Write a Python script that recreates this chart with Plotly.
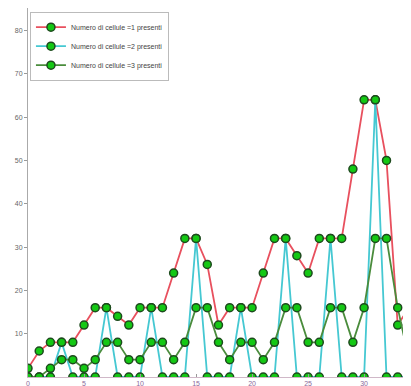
import plotly.graph_objects as go

x_vals = list(range(35))
cell1 = [2, 6, 8, 8, 8, 12, 16, 16, 14, 12, 16, 16, 16, 24, 32, 32, 26, 12, 16, 16,
         16, 24, 32, 32, 28, 24, 32, 32, 32, 48, 64, 64, 50, 12, 16]
cell2 = [0, 0, 0, 8, 0, 0, 0, 16, 0, 0, 0, 16, 0, 0, 0, 32, 0, 0, 0, 16,
         0, 0, 0, 32, 0, 0, 0, 32, 0, 0, 0, 64, 0, 0, 0]
cell3 = [0, 0, 2, 4, 4, 2, 4, 8, 8, 4, 4, 8, 8, 4, 8, 16, 16, 8, 4, 8,
         8, 4, 8, 16, 16, 8, 8, 16, 16, 8, 16, 32, 32, 16, 4]
names = ["Numero di cellule =1 presenti", "Numero di cellule =2 presenti",
         "Numero di cellule =3 presenti"]
line_colors = ["#e8505e", "#45c8d2", "#4a8c3c"]
x_ticks = [0, 5, 10, 15, 20, 25, 30]
y_ticks = [10, 20, 30, 40, 50, 60, 70, 80]

fig = go.Figure()
for ys, nm, col in zip([cell1, cell2, cell3], names, line_colors):
    fig.add_trace(go.Scatter(
        x=x_vals, y=ys, name=nm, mode="lines+markers",
        line=dict(color=col, width=1.8),
        marker=dict(size=8, color="#14c814", line=dict(color="#1e4a1e", width=1.5)),
    ))

fig.update_layout(
    width=411, height=386,
    margin=dict(l=20, r=0, t=0, b=17),
    paper_bgcolor="white", plot_bgcolor="white",
    font=dict(family="Liberation Sans, Arial, sans-serif", size=7, color="#555555"),
    showlegend=True,
    legend=dict(x=0.005, y=0.99, xanchor="left", yanchor="top",
                bgcolor="white", bordercolor="#bbbbbb", borderwidth=1,
                font=dict(size=7, color="#444444"), itemwidth=30,
                tracegroupgap=0),
)
fig.update_xaxes(range=[0, 34.9], tickvals=x_ticks, showgrid=False, zeroline=False,
                 showline=True, linecolor="#d0b8c8", linewidth=1,
                 ticks="inside", ticklen=3, tickcolor="#999999",
                 tickfont=dict(size=7, color="#8a6a9a"))
fig.update_yaxes(range=[0, 85.2], tickvals=y_ticks, showgrid=False, zeroline=False,
                 showline=True, linecolor="#aaaaaa", linewidth=1,
                 ticks="outside", ticklen=3, tickcolor="#999999",
                 tickfont=dict(size=7, color="#666666"))

fig.write_html("out.html")
